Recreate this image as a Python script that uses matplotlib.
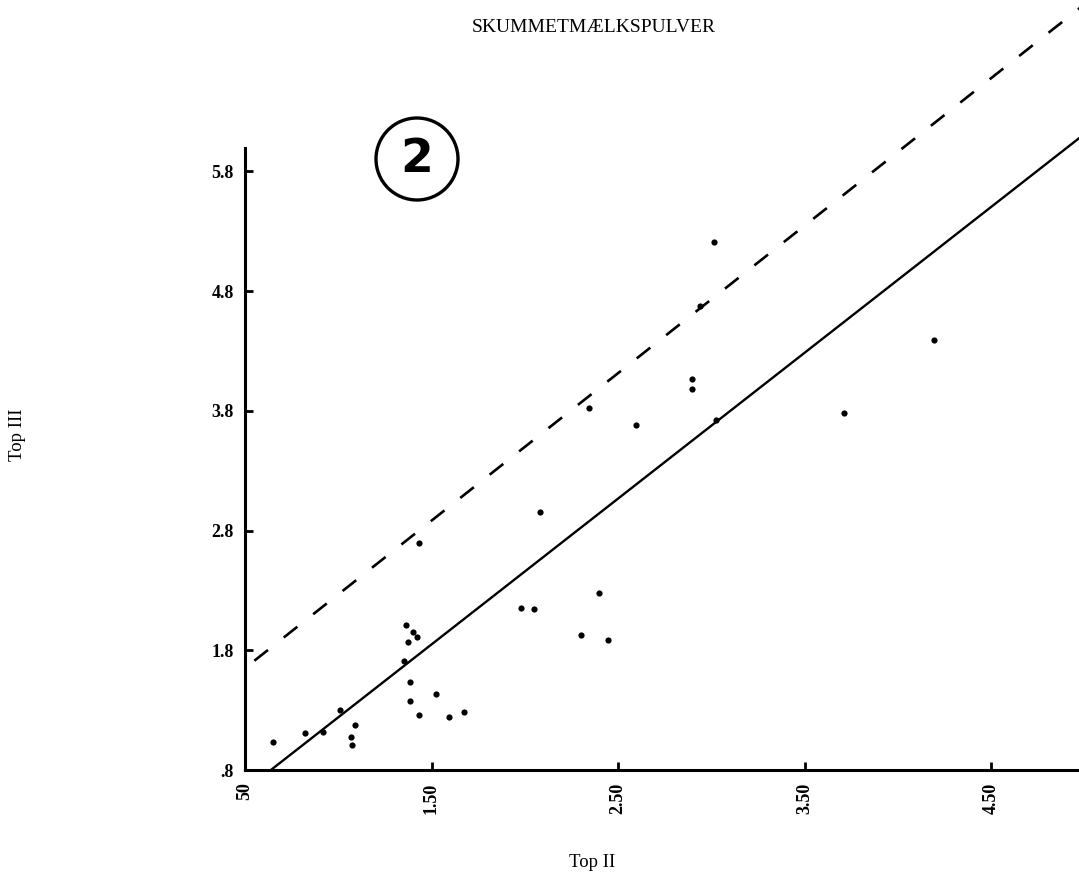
import matplotlib
matplotlib.use("Agg")
import matplotlib.pyplot as plt
from matplotlib.patches import Ellipse

# ---- data ----
top2 = [0.652, 0.822, 0.920, 1.009, 1.090, 1.068, 1.072, 1.362, 1.402, 1.421,
        1.372, 1.353, 1.385, 1.385, 1.524, 1.435, 1.595, 1.676, 1.433, 2.897,
        2.346, 2.597, 3.024, 2.083, 2.398, 1.980, 2.050, 2.302, 2.445, 3.016,
        2.940, 2.895, 4.196, 3.712]
top3 = [1.033, 1.110, 1.116, 1.298, 1.177, 1.079, 1.010, 2.011, 1.955, 1.915,
        1.872, 1.710, 1.538, 1.376, 1.437, 1.257, 1.240, 1.283, 2.700, 3.981,
        3.826, 3.681, 3.722, 2.958, 2.277, 2.155, 2.143, 1.930, 1.884, 5.209,
        4.679, 4.064, 4.391, 3.784]

solid_slope, solid_icpt = 1.218, 0.022
dash_slope, dash_icpt = 1.232, 1.035
solid_x = [0.64, 5.0]
dash_x = [0.55, 5.0]

xticks = [0.5, 1.5, 2.5, 3.5, 4.5]
xticklabels = ["50", "1.50", "2.50", "3.50", "4.50"]
yticks = [0.8, 1.8, 2.8, 3.8, 4.8, 5.8]
yticklabels = [".8", "1.8", "2.8", "3.8", "4.8", "5.8"]

title = "SKUMMETMÆLKSPULVER"
xlabel = "Top II"
ylabel = "Top III"

plt.rcParams['font.family'] = ['Liberation Serif', 'DejaVu Serif']

W, H = 1079, 880
fig = plt.figure(figsize=(W / 100, H / 100), dpi=100)
ax = fig.add_axes([245 / W, 1 - 770 / H, (W - 245) / W, 770 / H])

ax.set_xlim(0.5, 0.5 + (W - 245) / 186.5)
ax.set_ylim(0.8, 0.8 + 770 / 119.7)

for s in ["top", "right"]:
    ax.spines[s].set_visible(False)
for s in ["left", "bottom"]:
    ax.spines[s].set_linewidth(2.2)
ax.spines["left"].set_bounds(0.8, 6.0)

ax.scatter(top2, top3, s=20, color="black", zorder=3, linewidths=0)

sy = [solid_slope * x + solid_icpt for x in solid_x]
ax.plot(solid_x, sy, color="black", lw=1.7, solid_capstyle="butt")
dy = [dash_slope * x + dash_icpt for x in dash_x]
lw = 1.9
ax.plot(dash_x, dy, color="black", lw=lw, linestyle=(0, (12.5 / lw, 14.5 / lw)))

ax.set_xticks(xticks)
ax.set_xticklabels(xticklabels, rotation=90, va="top", fontsize=13, fontweight="bold")
ax.set_yticks(yticks)
ax.set_yticklabels(yticklabels, fontsize=13, fontweight="bold")
ax.tick_params(direction="in", length=6, width=2.0, pad=8)
ax.tick_params(axis="x", pad=9)

fig.text(594 / W, 1 - 27 / H, title, ha="center", va="center", fontsize=14)
fig.text(18 / W, 1 - 435 / H, ylabel, ha="center", va="center", rotation=90, fontsize=13.5)
fig.text(592 / W, 1 - 862 / H, xlabel, ha="center", va="center", fontsize=13.5)

# circled "2"
cx, cy, r = 417, 159, 41
fig.patches.append(Ellipse((cx / W, 1 - cy / H), 2 * r / W, 2 * r / H,
                           transform=fig.transFigure, fill=False, lw=2.4, color="black"))
fig.text(cx / W, 1 - cy / H, "2", ha="center", va="center", fontsize=34,
         fontweight="bold", family=["DejaVu Sans"])

fig.savefig("out.png", dpi=100)
